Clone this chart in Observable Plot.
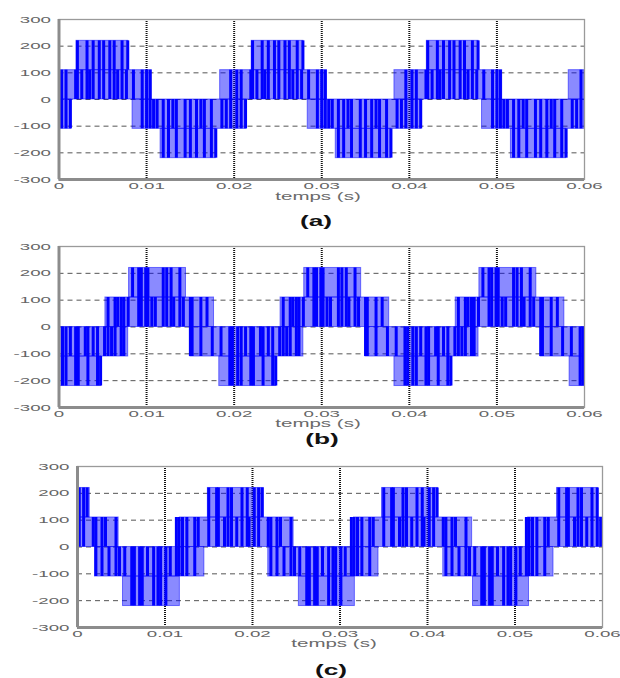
<!DOCTYPE html>
<html><head><meta charset="utf-8">
<script src="https://cdn.jsdelivr.net/npm/d3@7"></script>
<script src="https://cdn.jsdelivr.net/npm/@observablehq/plot@0.6"></script>
<style>
body{margin:0;background:#fff;}
#root{position:relative;width:620px;height:678px;overflow:hidden;font-family:"Liberation Sans",Arial,sans-serif;}
.fig{position:absolute;left:0;}
.lbl{position:absolute;transform:translate(-50%,-50%) scaleX(2.05);color:#6a6a6a;font-size:10px;line-height:1;white-space:nowrap;}
.cap{position:absolute;transform:translate(-50%,-50%) scaleX(1.75);color:#111;font-size:15px;line-height:1;font-weight:bold;white-space:nowrap;}
</style></head><body><div id="root"></div>
<script>
// tick values and labels
const xTicks = [0, 0.01, 0.02, 0.03, 0.04, 0.05, 0.06];
const xTickLabels = ["0", "0.01", "0.02", "0.03", "0.04", "0.05", "0.06"];
const yTicks = [-300, -200, -100, 0, 100, 200, 300];
const yTickLabels = ["-300", "-200", "-100", "0", "100", "200", "300"];
const xGrid = [0.01, 0.02, 0.03, 0.04, 0.05];
const yGrid = [-200, -100, 0, 100, 200];
const xLabel = "temps (s)";
const captions = ["(a)", "(b)", "(c)"];

// bands of fast switching: [t start (ms), t end (ms), lower level (V), upper level (V)]
const aBands = [[0,1.4,-110,0],[0,10.6,0,110],[2.0,7.9,110,220],[8.4,21.4,-110,0],[11.6,17.9,-220,-110],
  [18.4,30.6,0,110],[22.0,27.9,110,220],[28.4,41.4,-110,0],[31.6,37.9,-220,-110],
  [38.3,50.6,0,110],[42.0,47.9,110,220],[48.3,60,-110,0],[51.6,57.9,-220,-110],[58.2,60,0,110]];
const bBands = [[0,4.8,-220,-110],[0,7.9,-110,0],[5.3,17.7,0,110],[8.0,14.5,110,220],[15.0,27.9,-110,0],[18.3,24.8,-220,-110],
  [25.3,37.7,0,110],[28.0,34.5,110,220],[35.0,47.9,-110,0],[38.3,44.8,-220,-110],
  [45.3,57.7,0,110],[48.0,54.5,110,220],[55.0,60,-110,0],[58.3,60,-220,-110]];
const cBands = [[0,1.4,110,220],[0,4.7,0,110],[2.0,14.5,-110,0],[5.2,11.7,-220,-110],[11.7,24.7,0,110],[14.9,21.3,110,220],
  [21.8,34.4,-110,0],[25.3,31.7,-220,-110],[31.6,45.1,0,110],[34.8,41.2,110,220],
  [41.8,54.4,-110,0],[45.2,51.6,-220,-110],[51.5,60,0,110],[54.8,59.5,110,220]];

// distinct switching pulses: [t (ms), from level, to level]
const aPulses = [
 [0.3,-110,110],[0.8,-110,110],[1.3,-110,0],[1.9,0,110],[2.1,0,220],[2.6,0,110],[3.2,0,220],[3.5,0,110],[3.9,0,220],[4.6,0,220],[5.1,0,220],[5.8,0,220],[6.3,0,220],[6.7,0,110],[7.2,0,220],[7.7,0,110],[7.85,110,220],[8.5,0,110],[9.5,-110,110],[10.0,-110,110],[10.4,-110,110],[10.8,-110,0],[11.2,-110,0],[11.9,-220,0],[12.5,-220,0],[13.0,-110,0],[13.4,-220,0],[14.4,-220,0],[15.0,-220,0],[15.7,-220,0],[16.2,-110,0],[16.6,-220,0],[17.4,-220,0],[17.9,-220,-110],[18.6,-110,0],[19.1,-110,0],[19.6,-110,110],
 [20.3,-110,110],[20.8,-110,110],[21.3,-110,0],[21.9,0,110],[22.1,0,220],[22.6,0,110],[23.2,0,220],[23.5,0,110],[23.9,0,220],[24.6,0,220],[25.1,0,220],[25.8,0,220],[26.3,0,220],[26.7,0,110],[27.2,0,220],[27.7,0,110],[27.85,110,220],[28.5,0,110],[29.5,-110,110],[30.0,-110,110],[30.4,-110,110],[30.8,-110,0],[31.2,-110,0],[31.9,-220,0],[32.5,-220,0],[33.0,-110,0],[33.4,-220,0],[34.4,-220,0],[35.0,-220,0],[35.7,-220,0],[36.2,-110,0],[36.6,-220,0],[37.4,-220,0],[37.9,-220,-110],[38.6,-110,0],[39.1,-110,0],[39.6,-110,110],
 [40.3,-110,110],[40.8,-110,110],[41.3,-110,0],[41.9,0,110],[42.1,0,220],[42.6,0,110],[43.2,0,220],[43.5,0,110],[43.9,0,220],[44.6,0,220],[45.1,0,220],[45.8,0,220],[46.3,0,220],[46.7,0,110],[47.2,0,220],[47.7,0,110],[47.85,110,220],[48.5,0,110],[49.5,-110,110],[50.0,-110,110],[50.4,-110,110],[50.8,-110,0],[51.2,-110,0],[51.9,-220,0],[52.5,-220,0],[53.0,-110,0],[53.4,-220,0],[54.4,-220,0],[55.0,-220,0],[55.7,-220,0],[56.2,-110,0],[56.6,-220,0],[57.4,-220,0],[57.9,-220,-110],[58.6,-110,0],[59.1,-110,0],[59.6,-110,110]];
const bPulses = [
 [0.4,-220,0],[0.8,-220,0],[1.3,-110,0],[1.9,-220,0],[2.2,-220,0],[3.0,-110,0],[3.3,-220,0],[3.9,-110,0],[4.4,-220,0],[4.75,-220,-110],[5.2,-110,0],[5.6,-110,110],[6.0,-110,0],[6.4,-110,110],[6.7,0,110],[7.1,-110,110],[7.4,-110,110],[7.9,0,110],[8.4,110,220],[9.1,0,220],[9.4,0,220],[9.9,0,220],[10.15,0,220],[10.6,0,110],[11.0,0,110],[11.9,0,220],[12.3,0,220],[12.8,0,220],[13.1,0,110],[13.8,0,220],[14.2,0,110],[15.0,-110,110],[15.2,-110,110],[16.2,-110,110],[16.9,0,110],[17.5,-110,0],[18.5,-110,0],[19.5,-220,0],[19.8,-220,0],
 [20.4,-220,0],[20.8,-220,0],[21.3,-110,0],[21.9,-220,0],[22.2,-220,0],[23.0,-110,0],[23.3,-220,0],[23.9,-110,0],[24.4,-220,0],[24.75,-220,-110],[25.2,-110,0],[25.6,-110,110],[26.0,-110,0],[26.4,-110,110],[26.7,0,110],[27.1,-110,110],[27.4,-110,110],[27.9,0,110],[28.4,110,220],[29.1,0,220],[29.4,0,220],[29.9,0,220],[30.15,0,220],[30.6,0,110],[31.0,0,110],[31.9,0,220],[32.3,0,220],[32.8,0,220],[33.1,0,110],[33.8,0,220],[34.2,0,110],[35.0,-110,110],[35.2,-110,110],[36.2,-110,110],[36.9,0,110],[37.5,-110,0],[38.5,-110,0],[39.5,-220,0],[39.8,-220,0],
 [40.4,-220,0],[40.8,-220,0],[41.3,-110,0],[41.9,-220,0],[42.2,-220,0],[43.0,-110,0],[43.3,-220,0],[43.9,-110,0],[44.4,-220,0],[44.75,-220,-110],[45.2,-110,0],[45.6,-110,110],[46.0,-110,0],[46.4,-110,110],[46.7,0,110],[47.1,-110,110],[47.4,-110,110],[47.9,0,110],[48.4,110,220],[49.1,0,220],[49.4,0,220],[49.9,0,220],[50.15,0,220],[50.6,0,110],[51.0,0,110],[51.9,0,220],[52.3,0,220],[52.8,0,220],[53.1,0,110],[53.8,0,220],[54.2,0,110],[55.0,-110,110],[55.2,-110,110],[56.2,-110,110],[56.9,0,110],[57.5,-110,0],[58.5,-110,0],[59.5,-220,0],[59.8,-220,0]];
const cPulses = [
 [0.2,0,220],[0.7,0,220],[1.1,110,220],[1.8,0,110],[2.1,-110,110],[2.8,-110,110],[3.2,0,110],[3.6,-110,0],[4.4,-110,110],[4.8,-110,0],[5.4,-110,0],[6.2,-220,0],[6.5,-220,0],[7.1,-220,0],[7.4,-220,0],[8.0,-110,0],[8.7,-220,0],[9.2,-220,0],[9.5,-220,0],[10.1,-220,0],[10.6,-110,0],[11.3,-110,110],[11.6,-110,110],[12.0,-110,110],[12.5,-110,110],[13.4,-110,110],[13.8,0,110],[15.0,0,220],[15.9,0,220],[16.1,0,220],[16.8,0,110],[17.2,0,220],[17.6,0,220],[18.2,0,110],[18.8,0,220],[19.4,0,220],[19.6,0,110],
 [20.2,0,220],[20.7,0,220],[21.1,110,220],[21.8,0,110],[22.1,-110,110],[22.8,-110,110],[23.2,0,110],[23.6,-110,0],[24.4,-110,110],[24.8,-110,0],[25.4,-110,0],[26.2,-220,0],[26.5,-220,0],[27.1,-220,0],[27.4,-220,0],[28.0,-110,0],[28.7,-220,0],[29.2,-220,0],[29.5,-220,0],[30.1,-220,0],[30.6,-110,0],[31.3,-110,110],[31.6,-110,110],[32.0,-110,110],[32.5,-110,110],[33.4,-110,110],[33.8,0,110],[35.0,0,220],[35.9,0,220],[36.1,0,220],[36.8,0,110],[37.2,0,220],[37.6,0,220],[38.2,0,110],[38.8,0,220],[39.4,0,220],[39.6,0,110],
 [40.2,0,220],[40.7,0,220],[41.1,110,220],[41.8,0,110],[42.1,-110,110],[42.8,-110,110],[43.2,0,110],[43.6,-110,0],[44.4,-110,110],[44.8,-110,0],[45.4,-110,0],[46.2,-220,0],[46.5,-220,0],[47.1,-220,0],[47.4,-220,0],[48.0,-110,0],[48.7,-220,0],[49.2,-220,0],[49.5,-220,0],[50.1,-220,0],[50.6,-110,0],[51.3,-110,110],[51.6,-110,110],[52.0,-110,110],[52.5,-110,110],[53.4,-110,110],[53.8,0,110],[55.0,0,220],[55.9,0,220],[56.1,0,220],[56.8,0,110],[57.2,0,220],[57.6,0,220],[58.2,0,110],[58.8,0,220],[59.4,0,220],[59.8,0,110]];

const panels = [
  {bands: aBands, pulses: aPulses, top: 0, ml: 58.5, mr: 36, ph: 160, lx: 318, ly: 197, cx: 316, cy: 220},
  {bands: bBands, pulses: bPulses, top: 227, ml: 58.5, mr: 36, ph: 161, lx: 318, ly: 424, cx: 322, cy: 438},
  {bands: cBands, pulses: cPulses, top: 447, ml: 77, mr: 18, ph: 161, lx: 334, ly: 644, cx: 331, cy: 669}
];

function stretch(svg, s) {
  d3.select(svg).selectAll("text").each(function() {
    const t = d3.select(this);
    const x = +t.attr("x") || 0, y = +t.attr("y") || 0;
    const tr = t.attr("transform") || "";
    t.attr("transform", `${tr} translate(${x},${y}) scale(${s},1) translate(${-x},${-y})`);
  });
}

const root = document.getElementById("root");
panels.forEach((p, k) => {
  const svg = Plot.plot({
    width: 620,
    height: 19 + p.ph + 30,
    marginLeft: p.ml, marginRight: p.mr, marginTop: 19, marginBottom: 30,
    style: {fontSize: "9.6px", color: "#666", fontFamily: "'Liberation Sans', Arial, sans-serif", background: "transparent", overflow: "visible"},
    x: {domain: [xTicks[0], xTicks[xTicks.length - 1]], ticks: xTicks, tickSize: 0, tickPadding: 3,
        tickFormat: d => xTickLabels[xTicks.indexOf(d)], label: null},
    y: {domain: [yTicks[0], yTicks[yTicks.length - 1]], ticks: yTicks, tickSize: 0, tickPadding: 8,
        tickFormat: d => yTickLabels[yTicks.indexOf(d)], label: null},
    marks: [
      Plot.ruleY(yGrid, {stroke: "#555", strokeWidth: 1, strokeDasharray: "5,4"}),
      Plot.ruleX(xGrid, {stroke: "#111", strokeWidth: 2, strokeDasharray: "1,1"}),
      Plot.rect(p.bands, {x1: d => d[0] / 1000, x2: d => d[1] / 1000, y1: d => d[2], y2: d => d[3],
        fill: "#0000ff", fillOpacity: 0.46, stroke: "#0000ff", strokeOpacity: 0.5, strokeWidth: 1}),
      Plot.ruleX(p.pulses, {x: d => d[0] / 1000, y1: d => d[1], y2: d => d[2], stroke: "#0000ff", strokeWidth: 3}),
      Plot.frame({stroke: "#9a9a9a", strokeWidth: 1.3}),
      Plot.ruleX([xTicks[0]], {stroke: "#8c8c8c", strokeWidth: 3}),
      Plot.ruleY([yTicks[0]], {stroke: "#8c8c8c", strokeWidth: 3})
    ]
  });
  stretch(svg, 1.95);
  svg.classList.add("fig");
  svg.style.top = p.top + "px";
  svg.style.position = "absolute";
  root.appendChild(svg);

  const lbl = document.createElement("div");
  lbl.className = "lbl";
  lbl.textContent = xLabel;
  lbl.style.left = p.lx + "px";
  lbl.style.top = p.ly + "px";
  root.appendChild(lbl);

  const cap = document.createElement("div");
  cap.className = "cap";
  cap.textContent = captions[k];
  cap.style.left = p.cx + "px";
  cap.style.top = p.cy + "px";
  root.appendChild(cap);
});
</script></body></html>
